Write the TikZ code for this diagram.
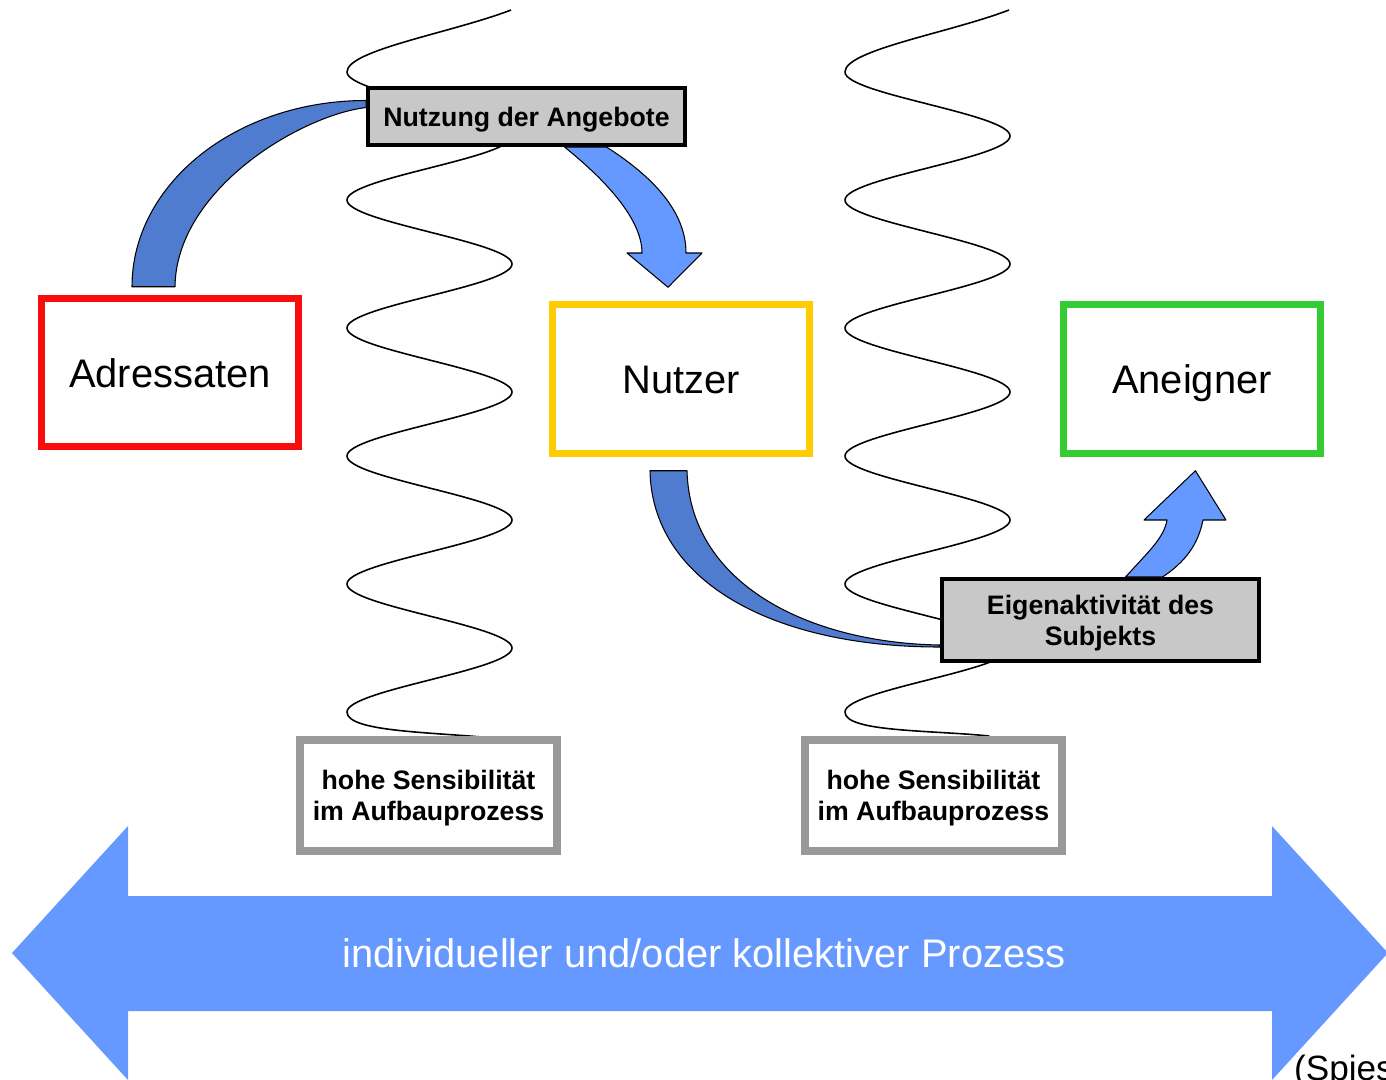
\documentclass[tikz,border=0pt]{standalone}
\usepackage{fontspec}
\setmainfont{Liberation Sans}
\usetikzlibrary{positioning,calc}
\pgfdeclarelayer{bg}
\pgfsetlayers{bg,main}
\definecolor{adrred}{HTML}{F70D0D}
\definecolor{nutzyellow}{HTML}{FFCC00}
\definecolor{aneigngreen}{HTML}{33CC33}
\definecolor{boxgray}{HTML}{C8C8C8}
\definecolor{sensgray}{HTML}{999999}
\definecolor{banddark}{HTML}{507CCF}
\definecolor{bandlight}{HTML}{6699FF}
\newcommand{\labelfont}{\fontsize{22.7}{27}\selectfont}
\newcommand{\notefont}{\bfseries\fontsize{15.2}{17.6}\selectfont}

\begin{document}
\begin{tikzpicture}[x=0.02cm, y=-0.02cm,
  stage/.style={draw, line width=0.14cm, fill=white, minimum width=5.14cm, minimum height=2.97cm, inner sep=0pt, text height=16.5pt, text depth=0pt, font=\labelfont},
  actbox/.style={draw=black, fill=boxgray, line width=0.08cm, minimum width=6.34cm, inner sep=0pt, text depth=0pt, align=center, font=\notefont},
  sensbox/.style={draw=sensgray, fill=white, line width=0.16cm, minimum width=5.14cm, minimum height=2.22cm, inner sep=0pt, text depth=0pt, align=center, font=\notefont},
  band/.style={draw=black, line width=0.6pt, line join=round},
  wave/.style={line width=0.9pt}]
  \clip (0,0) rectangle (1386,1079);

  % process arrow at the bottom
  \fill[bandlight] (12,953) -- (128,826) -- (128,896) -- (1272,896) -- (1272,826) -- (1388,953)
    -- (1272,1080) -- (1272,1011) -- (128,1011) -- (128,1080) -- cycle;
  \node[font=\labelfont, text=white] (proc) at (704,953) {individueller und/oder kollektiver Prozess};
  \node[anchor=base west, font=\fontsize{20}{24}\selectfont] (src) at (1288,1080) {(Spies};

  % stages
  \node[stage, draw=adrred] (adr) at (170,372.5) {Adressaten};
  \node[stage, draw=nutzyellow] (nutzer) at (681,379) {Nutzer};
  \node[stage, draw=aneigngreen, right=4.94cm of nutzer] (aneigner) {Aneigner};
  \node[actbox, minimum height=1.14cm] (nutzung) at (526.5,116.5) {Nutzung der Angebote};
  \node[actbox, minimum height=1.64cm] (eigen) at (1100.5,620) {Eigenaktivität des\\Subjekts};
  \node[sensbox] (sens1) at (428.5,795.5) {hohe Sensibilität\\im Aufbauprozess};
  \node[sensbox, right=4.8cm of sens1] (sens2) {hohe Sensibilität\\im Aufbauprozess};

  % waves behind the boxes
  \begin{pgfonlayer}{bg}
    \draw[wave] (511,10) .. controls (451,33) and (347,50) .. (347,72)
      \foreach \k in {1,...,5} { .. controls +(0,22) and +(0,-22) .. ++(165,64) .. controls +(0,22) and +(0,-22) .. ++(-165,64) }
      .. controls +(0,20) and +(-60,-6) .. ($(sens1.north)+(64,2)$);
    \draw[wave] (1009,10) .. controls (949,33) and (845,50) .. (845,72)
      \foreach \k in {1,...,5} { .. controls +(0,22) and +(0,-22) .. ++(165,64) .. controls +(0,22) and +(0,-22) .. ++(-165,64) }
      .. controls +(0,20) and +(-60,-6) .. ($(sens2.north)+(56,0)$);
  \end{pgfonlayer}

  % curved arrows
  \draw[band, fill=banddark] ($(adr.north)+(-38,-8)$) .. controls +(0,-103) and +(-130,0) .. ($(nutzung.west)+(0,-16)$)
    -- ($(nutzung.west)+(0,-9)$) .. controls +(-66,8) and +(1,-97) .. ($(adr.north)+(5,-8)$) -- cycle;
  \draw[band, fill=bandlight] ($(nutzung.south)+(80,0)$) .. controls (647,173) and (686,208) .. (686,253)
    -- (702,253) -- ($(nutzer.north)+(-13,-14)$) -- (627,253) -- (642,253)
    .. controls (642,218) and (603,178) .. ($(nutzung.south)+(38,0)$) -- cycle;
  \draw[band, fill=banddark] ($(nutzer.south)+(-31,14)$) .. controls +(2,109) and +(-170,0) .. ($(eigen.west)+(0,27)$)
    -- ($(eigen.west)+(0,25)$) .. controls +(-130,-2) and +(3,114) .. ($(nutzer.south)+(6,14)$) -- cycle;
  \draw[band, fill=bandlight] ($(eigen.north)+(25,0)$) .. controls (1148,552) and (1164,538) .. (1167,520)
    -- (1144,520) -- ($(aneigner.south)+(3.5,14)$) -- (1226,520) -- (1203,520)
    .. controls (1198,545) and (1185,562) .. ($(eigen.north)+(62,0)$) -- cycle;
\end{tikzpicture}
\end{document}
